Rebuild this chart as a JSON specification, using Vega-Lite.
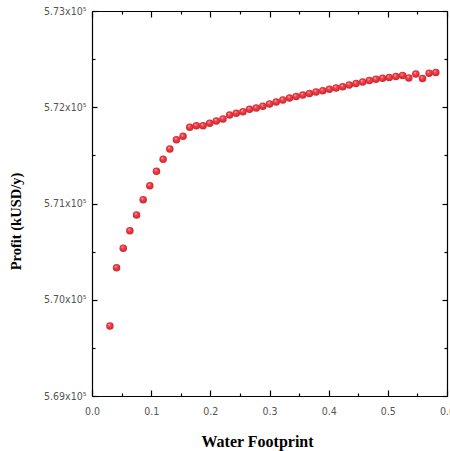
{
  "$schema": "https://vega.github.io/schema/vega-lite/v6.json",
  "width": 355,
  "height": 385,
  "autosize": {"type": "none"},
  "padding": {"left": 92, "top": 11, "right": 3, "bottom": 55},
  "background": "white",
  "config": {
    "view": {"stroke": null},
    "axis": {
      "domainColor": "black",
      "domainWidth": 1.2,
      "tickColor": "black",
      "tickWidth": 1.2,
      "grid": false,
      "labelFont": "Liberation Sans Narrow, DejaVu Sans Condensed",
      "labelFontSize": 10.5,
      "labelColor": "#555",
      "labelOverlap": false,
      "labelFlush": false,
      "titleFont": "Liberation Serif",
      "titleFontWeight": "bold",
      "titleColor": "black"
    }
  },
  "data": {
    "values": [
      {"wf": 0.0303, "profit": 569727},
      {"wf": 0.0415, "profit": 570333},
      {"wf": 0.0528, "profit": 570535},
      {"wf": 0.0640, "profit": 570717},
      {"wf": 0.0753, "profit": 570881},
      {"wf": 0.0865, "profit": 571040},
      {"wf": 0.0977, "profit": 571185},
      {"wf": 0.1090, "profit": 571335},
      {"wf": 0.1202, "profit": 571459},
      {"wf": 0.1315, "profit": 571566},
      {"wf": 0.1427, "profit": 571663},
      {"wf": 0.1539, "profit": 571698},
      {"wf": 0.1652, "profit": 571792},
      {"wf": 0.1764, "profit": 571808},
      {"wf": 0.1877, "profit": 571808},
      {"wf": 0.1989, "profit": 571833},
      {"wf": 0.2101, "profit": 571857},
      {"wf": 0.2214, "profit": 571878},
      {"wf": 0.2326, "profit": 571919},
      {"wf": 0.2439, "profit": 571937},
      {"wf": 0.2551, "profit": 571954},
      {"wf": 0.2663, "profit": 571979},
      {"wf": 0.2776, "profit": 571992},
      {"wf": 0.2888, "profit": 572010},
      {"wf": 0.3001, "profit": 572034},
      {"wf": 0.3113, "profit": 572054},
      {"wf": 0.3225, "profit": 572075},
      {"wf": 0.3338, "profit": 572096},
      {"wf": 0.3450, "profit": 572112},
      {"wf": 0.3563, "profit": 572127},
      {"wf": 0.3675, "profit": 572143},
      {"wf": 0.3787, "profit": 572158},
      {"wf": 0.3900, "profit": 572172},
      {"wf": 0.4012, "profit": 572186},
      {"wf": 0.4125, "profit": 572200},
      {"wf": 0.4237, "profit": 572213},
      {"wf": 0.4349, "profit": 572231},
      {"wf": 0.4462, "profit": 572247},
      {"wf": 0.4574, "profit": 572262},
      {"wf": 0.4687, "profit": 572278},
      {"wf": 0.4799, "profit": 572290},
      {"wf": 0.4911, "profit": 572301},
      {"wf": 0.5024, "profit": 572309},
      {"wf": 0.5136, "profit": 572319},
      {"wf": 0.5249, "profit": 572330},
      {"wf": 0.5355, "profit": 572304},
      {"wf": 0.5473, "profit": 572345},
      {"wf": 0.5586, "profit": 572299},
      {"wf": 0.5698, "profit": 572353},
      {"wf": 0.5811, "profit": 572361}
    ]
  },
  "layer": [
    {
      "mark": {"type": "point", "opacity": 0},
      "encoding": {
        "x": {
          "field": "wf", "type": "quantitative",
          "scale": {"domain": [0, 0.6], "nice": false, "zero": false},
          "axis": {
            "orient": "top", "labels": false, "title": null,
            "values": [0, 0.05, 0.1, 0.15, 0.2, 0.25, 0.3, 0.35, 0.4, 0.45, 0.5, 0.55, 0.6],
            "tickSize": {"condition": {"test": "round(datum.value*100) % 10 == 0", "value": -6}, "value": -3}
          }
        },
        "y": {
          "field": "profit", "type": "quantitative",
          "scale": {"domain": [569000, 573000], "nice": false, "zero": false},
          "axis": {
            "orient": "right", "labels": false, "title": null,
            "values": [569000, 569500, 570000, 570500, 571000, 571500, 572000, 572500, 573000],
            "tickSize": {"condition": {"test": "datum.value % 1000 == 0", "value": -5}, "value": -3}
          }
        }
      }
    },
    {
      "mark": {
        "type": "point",
        "filled": true,
        "size": 56,
        "opacity": 1,
        "strokeWidth": 0,
        "color": {
          "gradient": "radial",
          "x1": 0.38, "y1": 0.3, "r1": 0,
          "x2": 0.5, "y2": 0.5, "r2": 0.55,
          "stops": [
            {"offset": 0, "color": "#ffdada"},
            {"offset": 0.3, "color": "#f4474e"},
            {"offset": 1, "color": "#c8202a"}
          ]
        }
      },
      "encoding": {
        "x": {
          "field": "wf", "type": "quantitative",
          "scale": {"domain": [0, 0.6], "nice": false, "zero": false},
          "axis": {
            "orient": "bottom",
            "title": "Water Footprint",
            "titleFontSize": 16,
            "titleX": 165,
            "titlePadding": 14,
            "values": [0, 0.05, 0.1, 0.15, 0.2, 0.25, 0.3, 0.35, 0.4, 0.45, 0.5, 0.55, 0.6],
            "labelExpr": "round(datum.value*100) % 10 == 0 ? format(datum.value, '.1f') : ''",
            "labelPadding": 16,
            "tickSize": {"condition": {"test": "round(datum.value*100) % 10 == 0", "value": -6}, "value": -3}
          }
        },
        "y": {
          "field": "profit", "type": "quantitative",
          "scale": {"domain": [569000, 573000], "nice": false, "zero": false},
          "axis": {
            "orient": "left",
            "title": "Profit (kUSD/y)",
            "titleFontSize": 14.5,
            "titleY": 210,
            "titlePadding": 20,
            "values": [569000, 569500, 570000, 570500, 571000, 571500, 572000, 572500, 573000],
            "labelExpr": "datum.value % 1000 == 0 ? format(datum.value/100000, '.2f') + 'x10⁵' : ''",
            "labelPadding": 11,
            "tickSize": {"condition": {"test": "datum.value % 1000 == 0", "value": -5}, "value": -3}
          }
        }
      }
    }
  ],
  "resolve": {"axis": {"x": "independent", "y": "independent"}}
}
